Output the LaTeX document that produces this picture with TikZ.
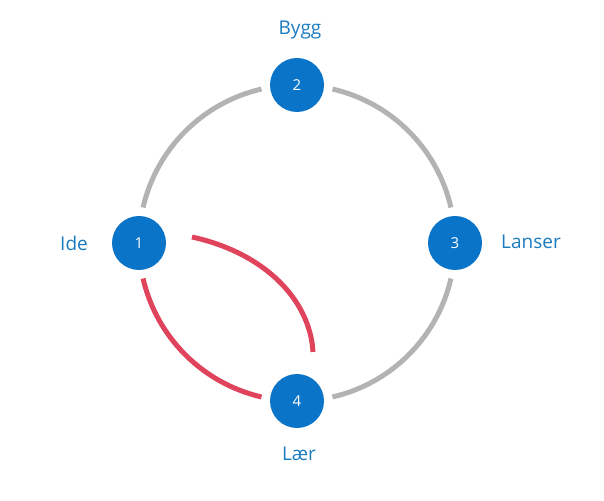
\documentclass[tikz,border=0pt]{standalone}
\usepackage{fontspec}
\setmainfont{Open Sans}
\usetikzlibrary{calc}
\definecolor{stepblue}{HTML}{0A74C8}
\definecolor{labelblue}{HTML}{1B7BBF}
\definecolor{ringgray}{HTML}{B3B3B3}
\definecolor{loopred}{HTML}{E0435C}
\begin{document}
\begin{tikzpicture}[x=1pt,y=1pt,
    stepnode/.style={circle,fill=stepblue,minimum size=54pt,inner sep=0,text=white,font=\fontsize{15}{15}\selectfont},
    steplabel/.style={text=labelblue,font=\fontsize{19}{19}\selectfont},
    ring/.style={ringgray,line width=5pt},
    redarc/.style={loopred,line width=5pt}]
    \useasboundingbox(0,0)rectangle(604,500);
    \coordinate(O)at(297,257);
    \newcommand{\RR}{158}
    \newcommand{\GG}{13}
    \draw[ring]($(O)+(90+\GG:\RR)$)arc(90+\GG:180-\GG:\RR);
    \draw[ring]($(O)+(\GG:\RR)$)arc(\GG:90-\GG:\RR);
    \draw[ring]($(O)+(-90+\GG:\RR)$)arc(-90+\GG:-\GG:\RR);
    \draw[redarc]($(O)+(180+\GG:\RR)$)arc(180+\GG:270-\GG:\RR);
    \coordinate(R1)at(192,263);
    \coordinate(R2)at(313,148);
    \draw[redarc](R1)..controls(265,247)and(310,200)..(R2);
    \node[stepnode](n1)at($(O)+(180:\RR)$){1};
    \node[stepnode](n2)at($(O)+(90:\RR)$){2};
    \node[stepnode](n3)at($(O)+(0:\RR)$){3};
    \node[stepnode](n4)at($(O)+(270:\RR)$){4};
    \node[steplabel]at(74,257){Ide};
    \node[steplabel]at(300,470){Bygg};
    \node[steplabel]at(531,258){Lanser};
    \node[steplabel]at(299,46){Lær};
\end{tikzpicture}
\end{document}
